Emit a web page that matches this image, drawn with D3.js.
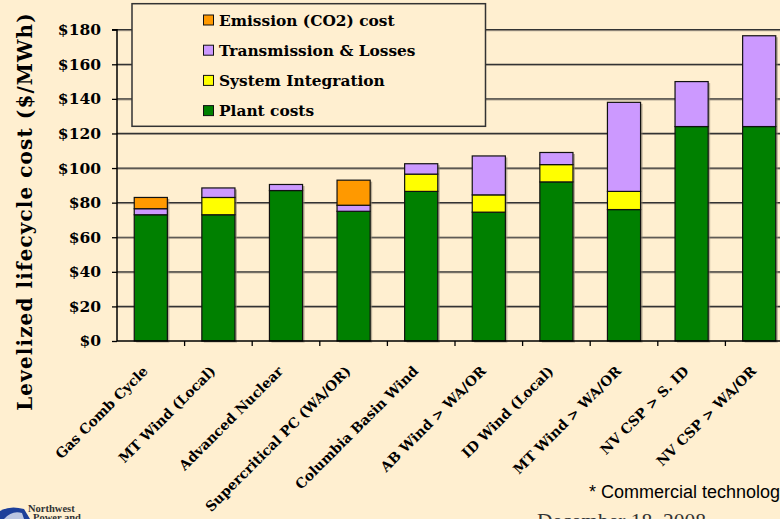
<!DOCTYPE html>
<html><head><meta charset="utf-8">
<script src="https://cdn.jsdelivr.net/npm/d3@7"></script>
<style>
html,body{margin:0;padding:0;background:#FFEFD0;overflow:hidden;}
svg{display:block;}
</style></head>
<body>
<svg id="c" width="780" height="519"></svg>
<script>
const categories = ["Gas Comb Cycle","MT Wind (Local)","Advanced Nuclear","Supercritical PC (WA/OR)","Columbia Basin Wind","AB Wind > WA/OR","ID Wind (Local)","MT Wind > WA/OR","NV CSP > S. ID","NV CSP > WA/OR"];
const plantCosts      = [73, 73, 87, 75, 86.5, 74.5, 92, 76, 124, 124];
const systemIntegration = [0, 10, 0, 0, 10, 10, 10, 10.5, 0, 0];
const transmission    = [3.5, 5.5, 3.5, 3.5, 6, 22.5, 7, 51.5, 26, 52.5];
const emission        = [6.5, 0, 0, 14.5, 0, 0, 0, 0, 0, 0];
const seriesNames = ["Plant costs","System Integration","Transmission & Losses","Emission (CO2) cost"];
const seriesColors = ["#008000","#FFFF00","#CC99FF","#FF9900"];
const yTicks = [0,20,40,60,80,100,120,140,160,180];

const svg = d3.select("#c");
const serif = "'DejaVu Serif', serif";
const pLeft = 117, pRight = 793, pTop = 29.7, pBottom = 341;

const x = d3.scaleBand().domain(categories).range([pLeft, pRight]).paddingInner(0.51).paddingOuter(0.255);
const xb = d3.scaleBand().domain(categories).range([pLeft, pRight]);
const y = d3.scaleLinear().domain([0,180]).range([pBottom, pTop]);

const rows = categories.map((c,i)=>({cat:c, "Plant costs":plantCosts[i], "System Integration":systemIntegration[i], "Transmission & Losses":transmission[i], "Emission (CO2) cost":emission[i]}));
const stack = d3.stack().keys(seriesNames)(rows);

// gridlines
const g = svg.append("g");
g.selectAll("line.shadow").data(yTicks.slice(1)).join("line")
  .attr("x1", pLeft).attr("x2", 780).attr("y1", d=>y(d)+1).attr("y2", d=>y(d)+1)
  .attr("stroke", "#9a8f80").attr("stroke-width", 1);
g.selectAll("line.grid").data(yTicks.slice(1)).join("line")
  .attr("x1", pLeft).attr("x2", 780).attr("y1", d=>y(d)).attr("y2", d=>y(d))
  .attr("stroke", "#333").attr("stroke-width", 1.2);

// bar shadows
const totals = categories.map((c,i)=>plantCosts[i]+systemIntegration[i]+transmission[i]+emission[i]);
svg.append("g").selectAll("rect").data(categories).join("rect")
  .attr("x", d=>x(d)+2).attr("y", (d,i)=>y(totals[i])+1.5)
  .attr("width", x.bandwidth()).attr("height", (d,i)=>pBottom - y(totals[i]))
  .attr("fill", "#8a8070").attr("opacity", 0.6);

// bars
stack.forEach((s,si)=>{
  svg.append("g").selectAll("rect").data(s.filter(d=>d[1]-d[0]>0)).join("rect")
    .attr("x", d=>x(d.data.cat)).attr("y", d=>y(d[1]))
    .attr("width", x.bandwidth()).attr("height", d=>y(d[0])-y(d[1]))
    .attr("fill", seriesColors[si]).attr("stroke", "#111").attr("stroke-width", 1.2);
});

// y axis
const yAxis = d3.axisLeft(y).tickValues(yTicks).tickFormat(d=>"$"+d).tickSize(5).tickPadding(11);
const ya = svg.append("g").attr("transform", `translate(${pLeft},0)`).call(yAxis);
ya.select(".domain").attr("stroke","#000").attr("stroke-width",1.5).attr("d", `M-5,${pTop}H0V${pBottom}`);
ya.selectAll(".tick line").attr("stroke","#000").attr("stroke-width",1.3);
ya.selectAll("text").attr("font-family", serif).attr("font-weight","bold").attr("font-size","15.5px").attr("fill","#000");

// x axis
const xAxis = d3.axisBottom(xb).tickSize(0).tickFormat("");
const xa = svg.append("g").attr("transform", `translate(0,${pBottom})`).call(xAxis);
xa.select(".domain").attr("stroke","#000").attr("stroke-width",1.5).attr("d", `M${pLeft},0H780`);
svg.append("g").selectAll("line").data(categories.slice(1)).join("line")
  .attr("x1", d=>xb(d)).attr("x2", d=>xb(d)).attr("y1", pBottom).attr("y2", pBottom+5)
  .attr("stroke","#000").attr("stroke-width",1.3);

svg.append("g").selectAll("text").data(categories).join("text")
  .attr("transform", d=>`translate(${xb(d)+xb.bandwidth()/2-2},${pBottom+31}) rotate(-45)`)
  .attr("text-anchor","end")
  .attr("font-family", serif).attr("font-weight","bold").attr("font-size","13.8px").attr("fill","#000")
  .text(d=>d);

// y title
svg.append("text")
  .attr("transform", `translate(32,${(13+410)/2}) rotate(-90)`)
  .attr("text-anchor","middle")
  .attr("font-family", serif).attr("font-weight","bold").attr("font-size","20px").attr("letter-spacing","1.1px").attr("fill","#000")
  .text("Levelized lifecycle cost ($/MWh)");

// legend
const lg = svg.append("g");
lg.append("rect").attr("x",132).attr("y",3.7).attr("width",353.5).attr("height",122.6)
  .attr("fill","#FFEFD0").attr("stroke","#333").attr("stroke-width",1.5);
const legendOrder = [3,2,1,0];
legendOrder.forEach((si,k)=>{
  const cy = 20 + k*30.2;
  lg.append("rect").attr("x",203.5).attr("y",cy-5).attr("width",10).attr("height",10)
    .attr("fill",seriesColors[si]).attr("stroke","#111").attr("stroke-width",1);
  lg.append("text").attr("x",219).attr("y",cy+5.5)
    .attr("font-family", serif).attr("font-weight","bold").attr("font-size","15.4px").attr("fill","#000")
    .text(seriesNames[si]);
});

// footnote
svg.append("text").attr("x",589).attr("y",498)
  .attr("font-family","'Liberation Sans', Arial, sans-serif").attr("font-size","18px").attr("fill","#000")
  .text("* Commercial technology");
svg.append("text").attr("x",537).attr("y",528)
  .attr("font-family","'Liberation Serif', serif").attr("font-size","21.5px").attr("fill","#333")
  .text("December 18, 2008");

// logo
const logo = svg.append("g");
logo.append("path").attr("d","M0,519 L0,511 Q10,505 24,509 L30,519 Z").attr("fill","#1d3f9a");
logo.append("path").attr("d","M4,519 Q12,510 22,513 L24,519 Z").attr("fill","#ffffff").attr("opacity",0.7);
logo.append("text").attr("x",28).attr("y",511.5)
  .attr("font-family","'Liberation Serif', serif").attr("font-weight","bold").attr("font-size","10.5px").attr("fill","#333")
  .text("Northwest");
logo.append("text").attr("x",33).attr("y",521)
  .attr("font-family","'Liberation Serif', serif").attr("font-weight","bold").attr("font-size","10.5px").attr("fill","#333")
  .text("Power and");
</script>
</body></html>
